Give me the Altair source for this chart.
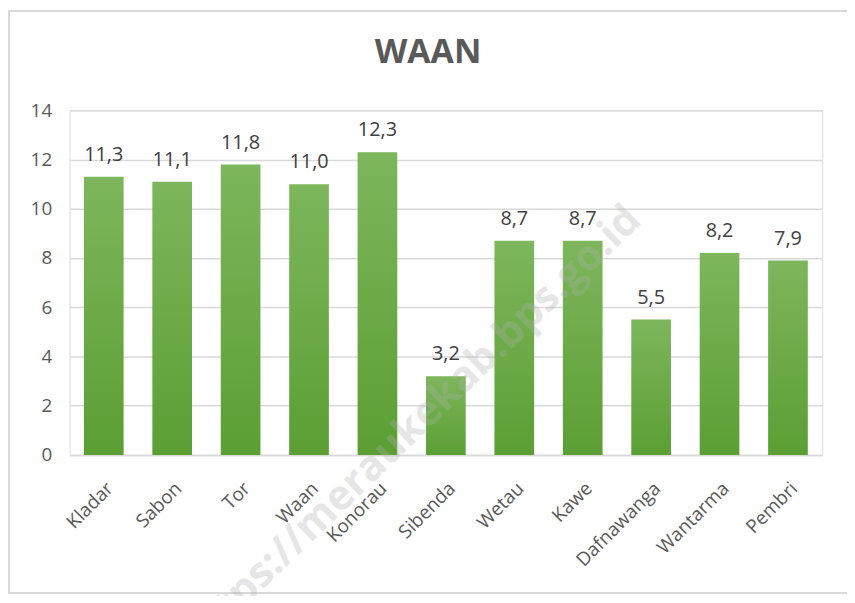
import altair as alt
import pandas as pd

categories = ["Kladar", "Sabon", "Tor", "Waan", "Konorau", "Sibenda",
              "Wetau", "Kawe", "Dafnawanga", "Wantarma", "Pembri"]
values = [11.3, 11.1, 11.8, 11.0, 12.3, 3.2, 8.7, 8.7, 5.5, 8.2, 7.9]
y_ticks = [0, 2, 4, 6, 8, 10, 12, 14]
title_text = "WAAN"
watermark_text = "https://meraukekab.bps.go.id"

df = pd.DataFrame({
    "kategori": categories,
    "nilai": values,
    "label": [f"{v:.1f}".replace(".", ",") for v in values],
})

W, H = 758, 347
FONT = "Open Sans"

x_enc = alt.X("kategori:N", sort=categories, title=None,
              scale=alt.Scale(paddingInner=0.42, paddingOuter=0.21),
              axis=alt.Axis(labelAngle=-45, labelFontSize=19, labelColor="#595959",
                            labelFont=FONT, ticks=False, domainColor="#d9d9d9",
                            domainWidth=1.5, labelPadding=24))
y_enc = alt.Y("nilai:Q", title=None,
              scale=alt.Scale(domain=[0, 14], nice=False),
              axis=alt.Axis(values=y_ticks, labelFontSize=19, labelColor="#595959",
                            labelFont=FONT, ticks=False, domain=False,
                            gridColor="#d9d9d9", gridWidth=1.5, labelPadding=18))

base = alt.Chart(df)

bars = base.mark_bar(
    color=alt.Gradient(
        gradient="linear",
        stops=[alt.GradientStop(color="#5b9f33", offset=0),
               alt.GradientStop(color="#7db65c", offset=1)],
        x1=0, x2=0, y1=1, y2=0,
    )
).encode(x=x_enc, y=y_enc)

labels = base.mark_text(
    baseline="bottom", dy=-12, fontSize=20, color="#404040", font=FONT
).encode(x=alt.X("kategori:N", sort=categories), y="nilai:Q", text="label:N")

title_df = pd.DataFrame({"t": [title_text]})
title = alt.Chart(title_df).mark_text(
    fontSize=34, fontWeight="bold", color="#595959", font=FONT,
    align="center", baseline="middle"
).encode(x=alt.value(361), y=alt.value(-58), text="t:N")

wm_df = pd.DataFrame({"t": [watermark_text]})
watermark = alt.Chart(wm_df).mark_text(
    fontSize=42, fontWeight="bold", color="#b0b0b0", opacity=0.3, font=FONT,
    align="center", baseline="middle", angle=316
).encode(x=alt.value(344), y=alt.value(320), text="t:N")

frame = alt.Chart(title_df).mark_rect(
    fill="transparent", stroke="#d9d9d9", strokeWidth=2
).encode(x=alt.value(-61), x2=alt.value(784), y=alt.value(-100), y2=alt.value(486))

chart = alt.layer(frame, bars, labels, title, watermark).properties(
    width=W, height=H,
    autosize=alt.AutoSizeParams(type="none"),
    padding={"left": 62, "top": 101, "right": 25, "bottom": 140},
).configure_view(strokeWidth=0).configure(background="white")

chart.save("out.html", embed_options={"renderer": "svg", "actions": False})
